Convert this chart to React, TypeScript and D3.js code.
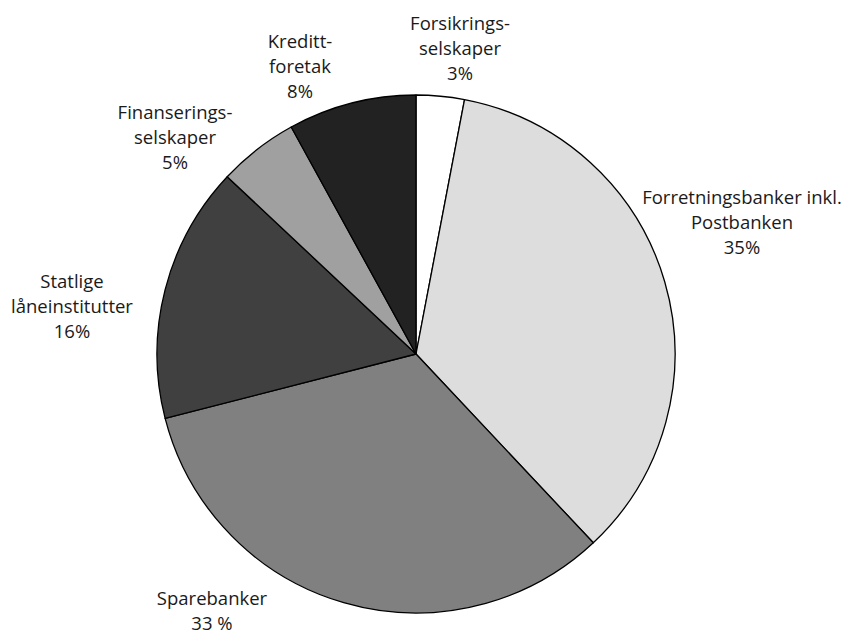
import React from 'react';
import * as d3 from 'd3';

const categories = [
  'Forsikringsselskaper',
  'Forretningsbanker inkl. Postbanken',
  'Sparebanker',
  'Statlige låneinstitutter',
  'Finansieringsselskaper',
  'Kredittforetak',
];
const shares = [3, 35, 33, 16, 5, 8];
const labelLines = [
  ['Forsikrings-', 'selskaper', '3%'],
  ['Forretningsbanker inkl.', 'Postbanken', '35%'],
  ['Sparebanker', '33 %'],
  ['Statlige', 'låneinstitutter', '16%'],
  ['Finanserings-', 'selskaper', '5%'],
  ['Kreditt-', 'foretak', '8%'],
];
const fills = ['#ffffff', '#dddddd', '#808080', '#404040', '#a0a0a0', '#222222'];

// label anchor: centre x, first baseline y
const labelPos: [number, number][] = [
  [460, 30],
  [742, 204],
  [212, 605],
  [72, 288],
  [175, 119],
  [300, 48],
];

const width = 847;
const height = 637;
const cx = 416;
const cy = 354;
const radius = 259;
const lineHeight = 25;

const App = () => {
  const data = categories.map((c, i) => ({ name: c, value: shares[i], idx: i }));
  const pie = d3
    .pie<{ name: string; value: number; idx: number }>()
    .sort(null)
    .value((d) => d.value);
  const arc = d3
    .arc<d3.PieArcDatum<{ name: string; value: number; idx: number }>>()
    .innerRadius(0)
    .outerRadius(radius);
  const arcs = pie(data);

  return (
    <svg
      width={width}
      height={height}
      style={{ position: 'absolute', left: 0, top: 0, background: '#fff' }}
    >
      <g transform={`translate(${cx},${cy})`}>
        {arcs.map((a) => (
          <path
            key={a.data.name}
            d={arc(a) || ''}
            fill={fills[a.data.idx]}
            stroke="#000"
            strokeWidth={1.3}
            strokeLinejoin="round"
          />
        ))}
      </g>
      {labelLines.map((lines, i) => (
        <text
          key={categories[i]}
          x={labelPos[i][0]}
          y={labelPos[i][1]}
          textAnchor="middle"
          fontFamily="'Open Sans', sans-serif"
          fontSize={18.5}
          fill="#1a1a1a"
        >
          {lines.map((l, j) => (
            <tspan key={j} x={labelPos[i][0]} dy={j === 0 ? 0 : lineHeight}>
              {l}
            </tspan>
          ))}
        </text>
      ))}
    </svg>
  );
};

export default App;
